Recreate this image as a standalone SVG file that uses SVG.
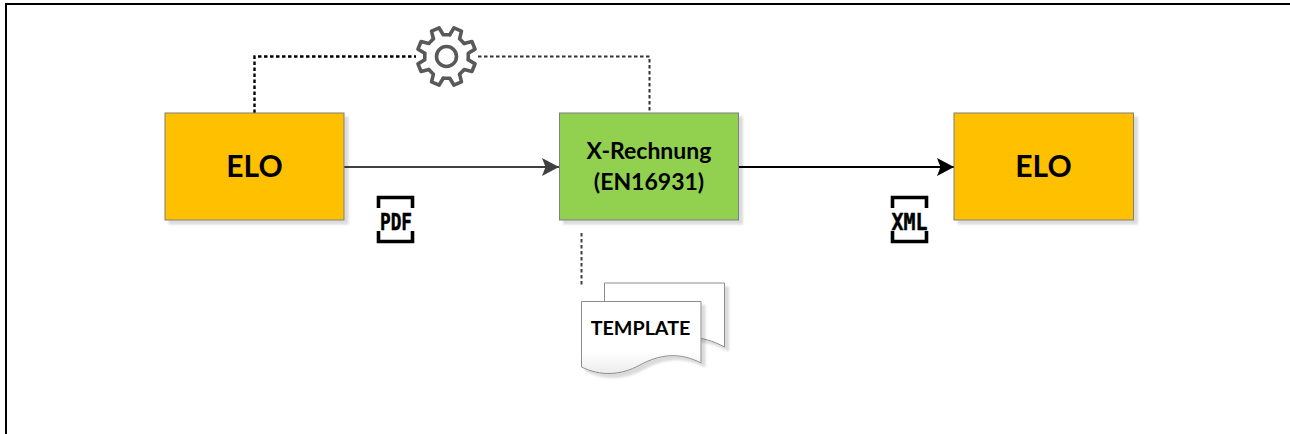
<svg xmlns="http://www.w3.org/2000/svg" xmlns:xlink="http://www.w3.org/1999/xlink" width="1290" height="434" viewBox="0 0 1290 434">
<style>
.box{stroke:#7f7f7f;stroke-width:1;filter:url(#sh)}
.t{font-family:Lato,"Liberation Sans",sans-serif;font-weight:700;fill:#000;text-anchor:middle}
.ico{font-family:"DejaVu Sans Mono",monospace;font-weight:700;font-size:23px;fill:#000;stroke:#000;stroke-width:.5}
.br{fill:none;stroke:#000;stroke-width:3.6}
.doc{fill:#fff;stroke:#8c8c8c;stroke-width:1;filter:url(#sh)}
.gear{fill:none;stroke:#595959;stroke-width:3.6;stroke-linejoin:round;stroke-linecap:round}
</style>
<defs>
<filter id="sh" x="-10%" y="-10%" width="125%" height="125%">
<feDropShadow dx="4" dy="4" stdDeviation="1" flood-color="#000" flood-opacity="0.14"/>
</filter>
<linearGradient id="dg" x1="0" y1="0" x2="0" y2="1"><stop offset="0.7" stop-color="#fff"/><stop offset="1" stop-color="#ececec"/></linearGradient>
<marker id="a1" markerUnits="userSpaceOnUse" markerWidth="18" markerHeight="18" refX="17" refY="9" orient="auto"><path d="M0 0L17 9L0 18L3.500 9Z" fill="#404040"/></marker>
<marker id="a2" markerUnits="userSpaceOnUse" markerWidth="18" markerHeight="18" refX="17" refY="9" orient="auto"><path d="M0 0L17 9L0 18L3.500 9Z" fill="#000"/></marker>
<path id="seg" d="M-5.32-21.35L-4.1-29.2L4.1-29.2L5.32-21.35L11.33-18.86"/>
</defs>
<rect width="1290" height="434" fill="#fff"/>
<path d="M6 434V4H1290" fill="none" stroke="#000" stroke-width="2"/>
<g id="connectors" fill="none">
<path d="M254.500 113V56.500H416" stroke="#000" stroke-width="2.400" stroke-dasharray="3.500 2.500"/>
<path d="M478 56.500H649.500V113" stroke="#333" stroke-width="2" stroke-dasharray="3.500 2.500"/>
<path d="M581.500 233V285" stroke="#404040" stroke-width="2" stroke-dasharray="3.500 2.500"/>
<path d="M344 167H559" stroke="#404040" stroke-width="2" marker-end="url(#a1)"/>
<path d="M739 167H954" stroke="#000" stroke-width="2" marker-end="url(#a2)"/>
</g>
<g id="node-elo-source">
<rect class="box" x="165" y="113" width="179" height="107" fill="#FFC000"/>
<text class="t" x="254.500" y="177" font-size="30">ELO</text>
</g>
<g id="node-xrechnung">
<rect class="box" x="559.500" y="113" width="179" height="107" fill="#92D050"/>
<text class="t" x="649" y="159" font-size="23">X-Rechnung</text>
<text class="t" x="649" y="190" font-size="23">(EN16931)</text>
</g>
<g id="node-elo-target">
<rect class="box" x="954" y="113" width="179.500" height="107" fill="#FFC000"/>
<text class="t" x="1043.500" y="177" font-size="30">ELO</text>
</g>
<g id="node-gear" class="gear" transform="translate(446.500 56.500)">
<use xlink:href="#seg" href="#seg" transform="rotate(22.500)"/>
<use xlink:href="#seg" href="#seg" transform="rotate(67.500)"/>
<use xlink:href="#seg" href="#seg" transform="rotate(112.500)"/>
<use xlink:href="#seg" href="#seg" transform="rotate(157.500)"/>
<use xlink:href="#seg" href="#seg" transform="rotate(202.500)"/>
<use xlink:href="#seg" href="#seg" transform="rotate(247.500)"/>
<use xlink:href="#seg" href="#seg" transform="rotate(292.500)"/>
<use xlink:href="#seg" href="#seg" transform="rotate(337.500)"/>
<circle r="10"/>
</g>
<g id="node-pdf">
<path class="br" d="M378.500 208V197.500H412.500V208M378.500 231V241.500H412.500V231"/>
<text class="ico" x="380" y="229.500" textLength="32" lengthAdjust="spacingAndGlyphs">PDF</text>
</g>
<g id="node-xml">
<path class="br" d="M892.500 208V197.500H926.500V208M892.500 231V241.500H926.500V231"/>
<text class="ico" x="891.500" y="229.500" textLength="36" lengthAdjust="spacingAndGlyphs">XML</text>
</g>
<g id="node-template">
<path class="doc" d="M604.500 283H724.500V347C700 334 685 336 660 345L604.500 345Z"/>
<path class="doc" d="M581.500 301.500H701V363C680 352 660 354 640 365C620 376 600 376 581.500 367Z" style="fill:url(#dg)"/>
<text class="t" x="640.500" y="335" font-size="19.700">TEMPLATE</text>
</g>
</svg>
